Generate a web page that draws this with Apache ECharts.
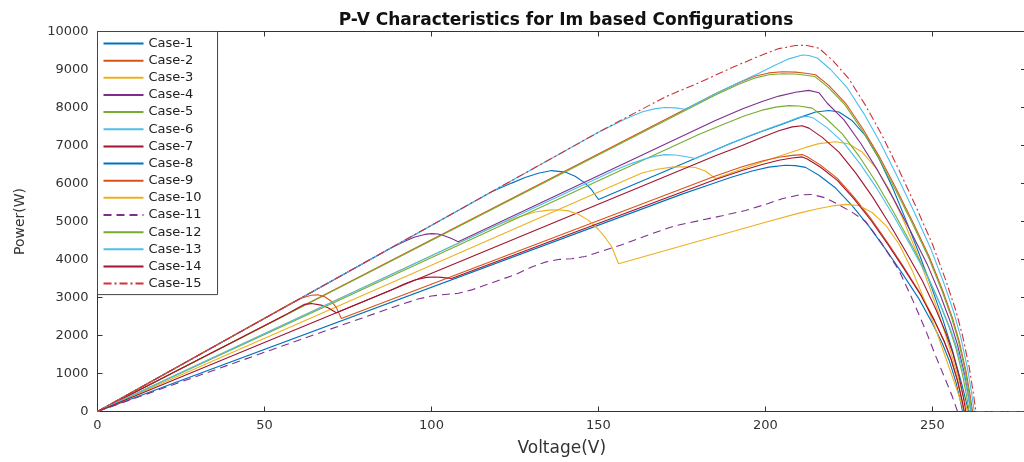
<!DOCTYPE html>
<html>
<head>
<meta charset="utf-8">
<script src="https://cdn.jsdelivr.net/npm/echarts@6/dist/echarts.min.js"></script>
<style>html,body{margin:0;padding:0;background:#fff}#c{width:1024px;height:462px}</style>
</head>
<body>
<div id="c"></div>
<script>
// [Voltage (V), Power (W)]
var case1 = [[0,0],[118,5780],[124,6010],[128,6160],[132,6270],[136,6340],[140,6300],[143,6190],[146,6010],[148,5830],[150,5580],[190,7070],[198,7340],[205,7560],[211,7760],[215,7880],[219,7920],[222,7880],[226,7650],[230,7250],[234,6650],[238,5900],[242,5050],[246,4150],[250,3200],[253,2450],[256,1600],[259,650],[260.8,0],[278,0]];
var case2 = [[0,0],[185,8360],[192,8650],[197,8830],[201,8910],[205,8940],[209,8930],[212,8900],[215,8862],[219,8575],[224,8111],[229,7462],[234,6721],[239,5886],[244,5006],[249,4079],[253,3198],[256,2457],[258,1854],[260,1075],[261.2,464],[262,0],[278,0]];
var case3 = [[0,0],[163,6275],[168,6380],[172,6430],[176,6440],[179,6420],[182,6330],[185,6130],[200,6600],[207,6800],[212,6950],[216,7050],[221,7100],[225,7040],[229,6820],[233,6420],[237,5850],[241,5100],[245,4250],[249,3300],[252,2550],[255,1700],[258,800],[260.5,0],[278,0]];
var case4 = [[0,0],[88,4310],[92,4480],[95,4590],[98,4660],[100,4680],[102,4670],[104,4620],[106,4550],[108,4470],[185,7660],[193,7960],[199,8160],[204,8300],[209,8400],[213,8450],[216,8390],[218.5,8112],[223.5,7674],[228.5,7060],[233.5,6358],[238.5,5569],[243.5,4736],[248.5,3859],[252.5,3026],[255.5,2324],[257.5,1754],[259.5,1017],[260.7,439],[261.5,0],[278,0]];
var case5 = [[0,0],[185,8330],[192,8610],[197,8780],[201,8860],[205,8890],[209,8880],[212,8850],[214.8,8814],[218.8,8529],[223.8,8068],[228.8,7422],[233.8,6685],[238.8,5855],[243.8,4979],[248.8,4057],[252.8,3181],[255.8,2443],[257.8,1844],[259.8,1070],[261,461],[261.8,0],[278,0]];
var case6 = [[0,0],[150,7350],[158,7700],[163,7880],[167,7970],[170,8000],[173,7990],[176,7955],[185,8360],[192,8660],[198,8900],[203,9120],[207,9280],[211,9380],[213,9370],[215.5,9302],[219.5,9000],[224.5,8514],[229.5,7833],[234.5,7054],[239.5,6179],[244.5,5254],[249.5,4281],[253.5,3357],[256.5,2578],[258.5,1946],[260.5,1129],[261.7,487],[262.5,0],[278,0]];
var case7 = [[0,0],[52,2350],[56,2530],[59,2680],[62,2820],[64,2840],[67,2800],[69,2730],[71.5,2600],[185,6730],[193,7000],[199,7220],[204,7390],[208,7490],[211,7520],[213,7457],[217,7215],[222,6825],[227,6279],[232,5655],[237,4953],[242,4212],[247,3432],[251,2691],[254,2067],[256,1560],[258,905],[259.2,390],[260,0],[278,0]];
var case8 = [[0,0],[175,5720],[183,5960],[190,6170],[196,6330],[201,6430],[206,6480],[209,6470],[212,6424],[216,6216],[221,5880],[226,5410],[231,4872],[236,4267],[241,3629],[246,2957],[250,2318],[253,1781],[255,1344],[257,780],[258.2,336],[259,0],[278,0]];
var case9 = [[0,0],[54,2650],[58,2850],[61,2980],[64,3060],[66,3070],[68,3020],[70,2900],[71.5,2740],[73,2450],[185,6200],[193,6440],[199,6590],[204,6690],[208,6740],[211,6760],[212.5,6702],[216.5,6484],[221.5,6134],[226.5,5643],[231.5,5082],[236.5,4451],[241.5,3785],[246.5,3084],[250.5,2418],[253.5,1858],[255.5,1402],[257.5,813],[258.7,351],[259.5,0],[278,0]];
var case10 = [[0,0],[120,4920],[126,5120],[131,5250],[135,5300],[138,5310],[141,5280],[144,5190],[147,5030],[150,4790],[152,4580],[154,4330],[156,3890],[200,4980],[210,5220],[216,5340],[220,5410],[224,5450],[228,5420],[232,5230],[236,4900],[240,4400],[244,3700],[248,2850],[251,2150],[254,1400],[257,650],[259.5,0],[278,0]];
var case11 = [[0,0],[60,1870],[90,2790],[96,2960],[100,3040],[104,3080],[108,3110],[112,3200],[125,3600],[130,3800],[134,3930],[138,4000],[142,4020],[146,4080],[157,4390],[165,4650],[173,4890],[180,5020],[187,5150],[194,5290],[200,5450],[205,5600],[210,5700],[214,5710],[218,5620],[222,5440],[226,5240],[230,5000],[235,4400],[240,3710],[244,2950],[248,2130],[251,1450],[254,815],[256,380],[257.5,0],[278,0]];
var case12 = [[0,0],[180,7290],[188,7580],[194,7790],[199,7930],[203,8010],[207,8050],[210,8040],[214,7983],[218,7724],[223,7306],[228,6722],[233,6054],[238,5302],[243,4509],[248,3674],[252,2881],[255,2213],[257,1670],[259,969],[260.2,418],[261,0],[278,0]];
var case13 = [[0,0],[155,6355],[160,6530],[164,6650],[167,6720],[170,6760],[173,6750],[176,6710],[179,6660],[195,7250],[202,7480],[207,7640],[210,7740],[212.5,7770],[214.5,7715],[218.5,7465],[223.5,7061],[228.5,6496],[233.5,5851],[238.5,5124],[243.5,4358],[248.5,3551],[252.5,2784],[255.5,2139],[257.5,1614],[259.5,936],[260.7,404],[261.5,0],[278,0]];
var case14 = [[0,0],[88,3200],[92,3360],[95,3460],[98.5,3530],[101,3540],[103,3530],[106,3500],[185,6105],[193,6340],[199,6500],[204,6610],[208,6670],[211,6700],[212.5,6644],[216.5,6429],[221.5,6081],[226.5,5594],[231.5,5039],[236.5,4413],[241.5,3753],[246.5,3058],[250.5,2398],[253.5,1842],[255.5,1390],[257.5,806],[258.7,348],[259.5,0],[278,0]];
var case15 = [[0,0],[150,7350],[170,8280],[180,8650],[190,9050],[198,9350],[204,9550],[209,9630],[212,9640],[216,9560],[220,9250],[225,8750],[230,8050],[235,7250],[240,6350],[245,5400],[250,4400],[254,3450],[257,2650],[259,2000],[261,1160],[262.2,500],[263,0],[278,0]];

var caseNames = ['Case-1','Case-2','Case-3','Case-4','Case-5','Case-6','Case-7','Case-8','Case-9','Case-10','Case-11','Case-12','Case-13','Case-14','Case-15'];
var caseData = [case1,case2,case3,case4,case5,case6,case7,case8,case9,case10,case11,case12,case13,case14,case15];
var colors = ['#0072BD','#D95319','#EDB120','#7E2F8E','#77AC30','#4DBEEE','#A2142F','#0072BD','#D95319','#EDB120','#7E2F8E','#77AC30','#4DBEEE','#A2142F','#D0303A'];
var xTicks = [0,50,100,150,200,250];
var yTicks = [0,1000,2000,3000,4000,5000,6000,7000,8000,9000,10000];

var axisColor = '#333';
var font = 'DejaVu Sans';
var series = caseData.map(function(d,i){
  var t = 'solid';
  if (i === 10) t = [8,5];
  if (i === 14) t = [8,3,2,3];
  return {
    name: caseNames[i], type: 'line', data: d, symbol: 'none', showSymbol: false,
    smooth: false, animation: false,
    lineStyle: {color: colors[i], width: 1.1, type: t},
    itemStyle: {color: colors[i]}
  };
});
function plain(v){ return String(v); }

var chart = echarts.init(document.getElementById('c'), null, {renderer: 'canvas'});
chart.setOption({
  backgroundColor: '#fff',
  animation: false,
  title: {
    text: 'P-V Characteristics for Im based Configurations',
    left: 561, top: 7, textAlign: 'center',
    textStyle: {fontFamily: font, fontSize: 17, fontWeight: 'bold', color: '#111'}
  },
  grid: {left: 97.5, width: 928.5, top: 31.5, bottom: 50.5, containLabel: false, outerBoundsMode: 'none'},
  legend: {
    orient: 'vertical', left: 97.5, top: 31.5,
    data: caseNames,
    itemWidth: 40, itemHeight: 14, itemGap: 3.15,
    padding: [5, 16, 4, 5],
    backgroundColor: '#fff', borderColor: '#444', borderWidth: 1,
    textStyle: {fontFamily: font, fontSize: 13, color: '#222', lineHeight: 14},
    itemStyle: {opacity: 0}
  },
  xAxis: [{
    type: 'value', min: 0, max: 278, interval: 50,
    name: 'Voltage(V)', nameLocation: 'middle', nameGap: 29,
    nameTextStyle: {fontFamily: font, fontSize: 17, color: '#333'},
    axisLine: {show: true, onZero: false, lineStyle: {color: axisColor, width: 1}},
    axisTick: {show: true, inside: true, length: 5, lineStyle: {color: axisColor}},
    axisLabel: {fontFamily: font, fontSize: 13, color: '#333', margin: 8, showMaxLabel: false, formatter: plain},
    splitLine: {show: false}
  },{
    type: 'value', min: 0, max: 278, interval: 50, position: 'top',
    axisLine: {show: true, onZero: false, lineStyle: {color: axisColor, width: 1}},
    axisTick: {show: true, inside: true, length: 5, lineStyle: {color: axisColor}},
    axisLabel: {show: false}, splitLine: {show: false}
  }],
  yAxis: [{
    type: 'value', min: 0, max: 10000, interval: 1000,
    name: 'Power(W)', nameLocation: 'middle', nameGap: 70, nameRotate: 90,
    nameTextStyle: {fontFamily: font, fontSize: 14, color: '#333'},
    axisLine: {show: true, onZero: false, lineStyle: {color: axisColor, width: 1}},
    axisTick: {show: true, inside: true, length: 5, lineStyle: {color: axisColor}},
    axisLabel: {fontFamily: font, fontSize: 13, color: '#333', margin: 9, formatter: plain},
    splitLine: {show: false}
  },{
    type: 'value', min: 0, max: 10000, interval: 1000, position: 'right',
    axisLine: {show: true, onZero: false, lineStyle: {color: axisColor, width: 1}},
    axisTick: {show: true, inside: true, length: 5, lineStyle: {color: axisColor}},
    axisLabel: {show: false}, splitLine: {show: false}
  }],
  series: series
});
</script>
</body>
</html>
